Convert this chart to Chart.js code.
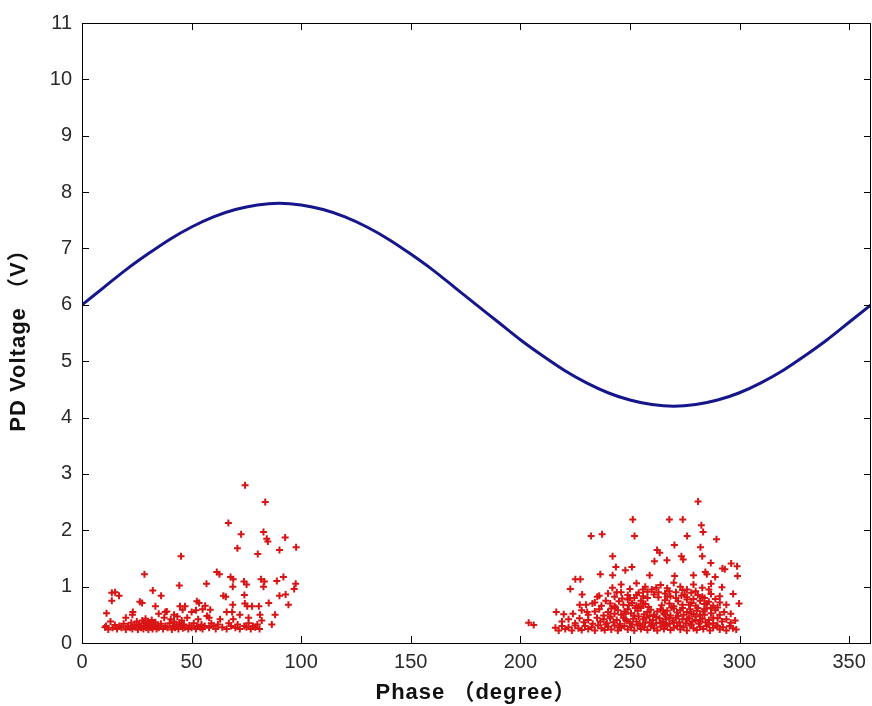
<!DOCTYPE html>
<html>
<head>
<meta charset="utf-8">
<script src="https://cdn.jsdelivr.net/npm/chart.js@4/dist/chart.umd.min.js"></script>
<style>
  html, body { margin: 0; padding: 0; background: #fff; }
  canvas { display: block; }
</style>
</head>
<body>
<canvas id="prpd" width="872" height="706"></canvas>
<script>
// Reference sine of the supply voltage, sampled every 10 degrees
const curvePhase = [0, 10, 20, 30, 40, 50, 60, 70, 80, 90, 100, 110, 120, 130, 140, 150, 160, 170, 180,
  190, 200, 210, 220, 230, 240, 250, 260, 270, 280, 290, 300, 310, 320, 330, 340, 350, 360];
const curveVolt = [6.0, 6.31, 6.62, 6.9, 7.16, 7.38, 7.56, 7.69, 7.77, 7.8, 7.77, 7.69, 7.56, 7.38, 7.16, 6.9, 6.62, 6.31, 6.0,
  5.69, 5.38, 5.1, 4.84, 4.62, 4.44, 4.31, 4.23, 4.2, 4.23, 4.31, 4.44, 4.62, 4.84, 5.1, 5.38, 5.69, 6.0];

// Discharge pulses in the positive half cycle [phase, volt]
const pdPositive = [
  [10.5,0.28],[11,0.3],[12,0.24],[13,0.38],[14,0.27],[15,0.32],[16,0.25],[17,0.3],[18,0.27],[19,0.34],
  [20,0.24],[21,0.3],[22,0.27],[22.5,0.36],[23,0.25],[24,0.32],[24.5,0.28],[25,0.38],[25.5,0.24],[26,0.33],
  [26.5,0.3],[27,0.27],[27.5,0.4],[28,0.25],[28.3,0.35],[28.7,0.3],[29,0.43],[29.3,0.27],[29.7,0.33],[30,0.38],
  [30.3,0.24],[30.7,0.3],[31,0.36],[31.4,0.28],[31.8,0.41],[32.2,0.25],[32.6,0.33],[33,0.29],[33.5,0.37],[34,0.25],
  [34.5,0.31],[35,0.27],[36,0.34],[37,0.25],[37.5,0.45],[38,0.3],[39,0.27],[40,0.35],[40.5,0.42],[41,0.24],
  [41.5,0.3],[42,0.38],[42.5,0.27],[43,0.33],[43.5,0.47],[44,0.25],[44.5,0.36],[45,0.3],[45.5,0.4],[46,0.26],
  [46.5,0.33],[47,0.28],[48,0.45],[48.5,0.25],[49,0.31],[50,0.27],[51,0.35],[52,0.25],[52.5,0.3],[53,0.42],
  [54,0.27],[54.5,0.33],[55,0.25],[56,0.3],[57,0.48],[58,0.27],[59,0.35],[60,0.3],[61,0.25],[62,0.33],
  [64,0.28],[66,0.25],[67,0.35],[68,0.3],[69,0.42],[70,0.27],[71,0.33],[72,0.25],[74,0.3],[75,0.28],
  [76,0.35],[77,0.25],[78,0.3],[79,0.28],[80,0.33],[81,0.25],[82,0.4],
  [20,0.45],[23,0.5],[35,0.52],[38,0.55],[42,0.5],[50,0.55],[52,0.58],[55,0.6],[58,0.45],[63,0.42],
  [66,0.55],[72,0.5],[76,0.45],
  [74.4,2.8],[83.6,2.5],[66.8,2.13],[72.6,1.93],[82.8,1.97],[84.3,1.85],[84.8,1.8],[92.7,1.87],[70.9,1.68],[97.7,1.7],
  [90.1,1.65],[80.2,1.58],[45.2,1.54],[28.5,1.22],[61.5,1.26],[62.7,1.22],[67.8,1.17],[69,1.13],[73.9,1.09],[75.1,1.04],
  [91.9,1.17],[81.7,1.13],[83.2,1.09],[88.9,1.1],[97.5,1.05],[44.4,1.02],[56.8,1.05],[32.3,0.93],[36.1,0.84],[13.6,0.89],
  [15.1,0.9],[16.9,0.84],[13.6,0.75],[68.8,1.0],[74.1,0.85],[82.8,1.0],[96.8,0.96],[64.5,0.84],[65.6,0.82],[92.9,0.86],
  [90.1,0.84],[94.2,0.68],[85.2,0.71],[26.4,0.73],[27.4,0.71],[33.5,0.65],[52.4,0.74],[53.4,0.71],[47,0.65],[56.2,0.66],
  [58.5,0.59],[68.8,0.68],[74.3,0.7],[75.4,0.65],[77.6,0.65],[80.7,0.65],[44.7,0.65],[45.9,0.59],[38.7,0.56],[88.1,0.5],
  [11.2,0.53],[23.2,0.55],[68.5,0.55],[81.2,0.5],[86.6,0.33]
];

// Discharge pulses in the negative half cycle [phase, volt]
const pdNegative = [
  [216,0.27],[217.5,0.22],[219,0.3],[220.5,0.25],[222,0.28],[223.5,0.22],[225,0.31],[226.5,0.26],[228,0.23],[229.5,0.3],
  [231,0.25],[232.5,0.28],[234,0.22],[235.5,0.31],[237,0.26],[238.5,0.23],[240,0.29],[241.5,0.24],[243,0.31],[244.5,0.22],
  [246,0.27],[247.5,0.3],[249,0.24],[250.5,0.28],[252,0.22],[253.5,0.31],[255,0.25],[256.5,0.28],[258,0.23],[259.5,0.3],
  [261,0.26],[262.5,0.22],[264,0.29],[265.5,0.25],[267,0.31],[268.5,0.23],[270,0.27],[271.5,0.3],[273,0.24],[274.5,0.28],
  [276,0.22],[277.5,0.31],[279,0.26],[280.5,0.23],[282,0.29],[283.5,0.25],[285,0.3],[286.5,0.22],[288,0.27],[289.5,0.31],
  [291,0.24],[292.5,0.28],[294,0.22],[295.5,0.3],[297,0.26],[298.5,0.24],
  [219,0.38],[222,0.42],[225,0.35],[227,0.44],[229,0.37],[231,0.41],[233,0.34],[235,0.45],[236.5,0.38],[238,0.42],
  [239.5,0.35],[241,0.44],[242.5,0.37],[244,0.41],[245.5,0.34],[247,0.45],[248.5,0.39],[250,0.36],[251.5,0.43],[253,0.38],
  [254.5,0.34],[256,0.42],[257.5,0.45],[259,0.37],[260.5,0.41],[262,0.35],[263.5,0.44],[265,0.38],[266.5,0.42],[268,0.34],
  [269.5,0.4],[271,0.45],[272.5,0.37],[274,0.42],[275.5,0.35],[277,0.44],[278.5,0.38],[280,0.41],[281.5,0.34],[283,0.43],
  [284.5,0.37],[286,0.41],[288,0.35],[290,0.44],[292,0.38],[294,0.42],[296,0.36],[298,0.4],
  [224,0.52],[228,0.58],[231,0.5],[234,0.56],[236,0.6],[238,0.49],[240,0.55],[241.5,0.61],[243,0.52],[244.5,0.58],
  [246,0.5],[247.5,0.56],[249,0.6],[250.5,0.53],[252,0.49],[253.5,0.57],[255,0.62],[256.5,0.51],[258,0.55],[259.5,0.59],
  [261,0.5],[262.5,0.56],[264,0.6],[265.5,0.52],[267,0.57],[268.5,0.49],[270,0.61],[271.5,0.54],[273,0.58],[274.5,0.5],
  [276,0.55],[277.5,0.6],[279,0.52],[280.5,0.57],[282,0.5],[283.5,0.56],[285,0.61],[287,0.53],[289,0.58],[291,0.5],
  [293,0.55],[296,0.52],
  [230,0.68],[234,0.72],[237,0.66],[239,0.75],[241,0.7],[243,0.65],[245,0.74],[247,0.68],[249,0.77],[251,0.71],
  [253,0.66],[255,0.75],[257,0.69],[258.5,0.64],[264.5,0.67],[266,0.76],[268,0.7],[270,0.65],[272,0.74],[274,0.68],
  [276,0.77],[278,0.71],[280,0.66],[282,0.75],[284,0.69],[286,0.73],[288,0.66],[291,0.72],[294,0.68],
  [236,0.84],[240,0.88],[243,0.82],[246,0.9],[249,0.85],[252,0.8],[254,0.89],[256,0.83],[258,0.91],[261,0.86],
  [263,0.81],[266,0.88],[268.5,0.83],[271,0.9],[273.5,0.84],[276,0.81],[278,0.89],[281,0.85],[284,0.8],[287,0.87],
  [291,0.83],
  [242,0.98],[246,1.04],[250,0.96],[253,1.06],[257,1.0],[260,0.95],[264,1.03],[267,0.97],[270,1.07],[273,1.0],
  [276,0.95],[279,1.04],[283,0.98],[287,1.05],[292,0.99],
  [239,0.33],[241,0.47],[243.5,0.63],[245,0.28],[246.5,0.79],[248,0.42],[249.5,0.67],[251,0.33],[252.5,0.62],[253,0.85],
  [254,0.47],[255.5,0.29],[256,0.7],[257,0.36],[258,0.8],[259,0.48],[260,0.32],[262,0.46],[263,0.9],[264,0.36],
  [265,0.58],[266,0.32],[267,0.82],[268,0.45],[269,0.63],[270,0.36],[271,0.8],[272,0.48],[273,0.3],[274,0.62],
  [275,0.86],[276,0.42],[277,0.68],[278,0.33],[279,0.78],[280,0.47],[281,0.62],[282,0.38],[283,0.82],[284,0.5],
  [285,0.7],[286,0.33],[287,0.62],[288,0.45],[289,0.78],[290,0.3],[244,0.9],[250,0.8],[256,0.95],[262,0.98],
  [268,0.92],[274,0.94],[280,0.92],[286,0.95],[248,0.52],[254,0.65],[266,0.5],[278,0.52],[284,0.6],[290,0.63],
  [281.1,2.51],[251.3,2.19],[268,2.19],[274.1,2.19],[282.6,2.09],[232.3,1.9],[237.3,1.93],[252.1,1.9],[276.1,1.9],[283.4,1.97],
  [289.5,1.84],[270.3,1.74],[282.2,1.7],[262.4,1.65],[263.6,1.6],[283,1.54],[242.1,1.54],[273.5,1.54],[274.3,1.48],[261.2,1.45],
  [266.9,1.47],[286.9,1.42],[296.2,1.41],[298.9,1.36],[292.2,1.32],[293.3,1.31],[243.6,1.35],[250.9,1.35],[247.9,1.29],[236.5,1.22],
  [242.1,1.2],[259,1.2],[270.4,1.19],[279,1.2],[285.1,1.22],[284.4,1.26],[288.9,1.17],[299.1,1.19],[225.1,1.13],[227.4,1.13],
  [222.8,0.96],[228.2,0.86],[297.1,0.87],[299.8,0.7],[227.1,0.68],[232.9,0.7],[235.1,0.82],[216.4,0.55],[219.8,0.51],[230.5,0.55],
  [203.8,0.36],[206.1,0.32]
];

const xTicks = [0, 50, 100, 150, 200, 250, 300, 350];
const yTicks = [0, 1, 2, 3, 4, 5, 6, 7, 8, 9, 10, 11];
const xTitle = 'Phase （degree）';
const yTitle = 'PD Voltage （V）';

const tickFont = { family: '"Liberation Sans", Arial, sans-serif', size: 20 };
const titleFontCss = 'bold 22px "Liberation Sans", Arial, "Noto Sans CJK SC", sans-serif';

// MATLAB style frame: full box, inward tick marks on all four sides, axis titles
const boxPlugin = {
  id: 'matlabBox',
  afterDraw(chart) {
    const { ctx, chartArea: a, scales: { x, y } } = chart;
    const len = 7;
    ctx.save();
    ctx.strokeStyle = '#000';
    ctx.lineWidth = 1;
    ctx.strokeRect(a.left + 0.5, a.top + 0.5, a.right - a.left - 1, a.bottom - a.top);
    ctx.beginPath();
    xTicks.forEach(v => {
      const px = Math.round(x.getPixelForValue(v)) + 0.5;
      ctx.moveTo(px, a.bottom); ctx.lineTo(px, a.bottom - len);
      ctx.moveTo(px, a.top); ctx.lineTo(px, a.top + len);
    });
    yTicks.forEach(v => {
      const py = Math.round(y.getPixelForValue(v)) + 0.5;
      ctx.moveTo(a.left, py); ctx.lineTo(a.left + len, py);
      ctx.moveTo(a.right, py); ctx.lineTo(a.right - len, py);
    });
    ctx.stroke();

    ctx.fillStyle = '#111';
    ctx.font = titleFontCss;
    ctx.textAlign = 'center';
    ctx.textBaseline = 'middle';
    ctx.letterSpacing = '1px';
    ctx.fillText(xTitle, 476, 693);
    ctx.translate(19, 335);
    ctx.rotate(-Math.PI / 2);
    ctx.letterSpacing = '1px';
    ctx.fillText(yTitle, 0, 0);
    ctx.restore();
  }
};

const pdStyle = {
  type: 'scatter',
  pointStyle: 'cross',
  pointRadius: 3.5,
  pointBorderWidth: 2,
  borderColor: '#d81414',
  backgroundColor: '#d81414',
  showLine: false
};

new Chart(document.getElementById('prpd'), {
  type: 'line',
  data: {
    datasets: [
      {
        label: 'Voltage',
        data: curvePhase.map((p, i) => ({ x: p, y: curveVolt[i] })),
        borderColor: '#16168c',
        borderWidth: 3,
        pointRadius: 0,
        cubicInterpolationMode: 'monotone',
        fill: false
      },
      { ...pdStyle, label: 'PD+', data: pdPositive.map(([x, y]) => ({ x, y })) },
      { ...pdStyle, label: 'PD-', data: pdNegative.map(([x, y]) => ({ x, y })) }
    ]
  },
  options: {
    responsive: false,
    animation: false,
    layout: { autoPadding: false, padding: { top: 23, right: 1, left: 0, bottom: 0 } },
    plugins: { legend: { display: false }, tooltip: { enabled: false } },
    scales: {
      x: {
        type: 'linear',
        min: 0,
        max: 360,
        afterFit: s => { s.height = 63; s.paddingLeft = 0; s.paddingRight = 0; },
        afterBuildTicks: s => { s.ticks = xTicks.map(v => ({ value: v })); },
        grid: { display: false, drawTicks: false },
        border: { display: false },
        ticks: { font: tickFont, color: '#2a2a2a', padding: 7, maxRotation: 0 }
      },
      y: {
        type: 'linear',
        min: 0,
        max: 11,
        afterFit: s => { s.width = 82; s.paddingTop = 0; s.paddingBottom = 0; },
        afterBuildTicks: s => { s.ticks = yTicks.map(v => ({ value: v })); },
        grid: { display: false, drawTicks: false },
        border: { display: false },
        ticks: { font: tickFont, color: '#2a2a2a', padding: 10 }
      }
    }
  },
  plugins: [boxPlugin]
});
</script>
</body>
</html>
